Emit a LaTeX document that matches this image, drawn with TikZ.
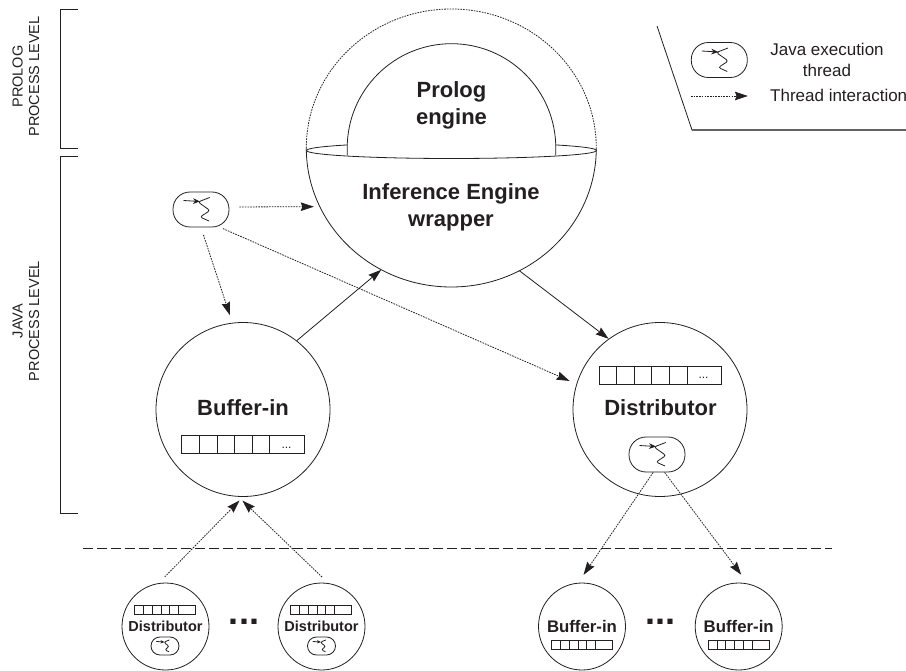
\documentclass[tikz,border=0pt]{standalone}
\usepackage{fontspec}
\setmainfont{Liberation Sans}
\usetikzlibrary{arrows.meta,shapes.geometric}
\definecolor{inkdark}{HTML}{231F20}
\tikzset{
    inkline/.style={draw=inkdark,line width=.8pt},
    solidarrow/.style={inkline,-{Stealth[length=13pt,width=8.5pt,inset=1.5pt]}},
    threadarrow/.style={solidarrow,dash pattern=on 1.6pt off 1.1pt},
    bigball/.style={circle,inkline,minimum size=174pt,inner sep=0pt},
    smallball/.style={circle,inkline,minimum size=87pt,inner sep=0pt},
    threadbox/.style={rectangle,inkline,rounded corners=17pt,minimum width=56pt,minimum height=35pt},
    threadboxsmall/.style={rectangle,inkline,rounded corners=9pt,minimum width=28pt,minimum height=18pt},
    biglabel/.style={text=inkdark,font=\fontsize{22}{27}\selectfont\bfseries,align=center},
    levellabel/.style={text=inkdark,rotate=90,font=\fontsize{14.5}{16.5}\selectfont,align=center},
    legendlabel/.style={text=inkdark,font=\fontsize{17}{21}\selectfont,align=center},
    dotlabel/.style={text=inkdark,font=\fontsize{12}{12}\selectfont,inner sep=0pt},
    gaplabel/.style={text=inkdark,font=\fontsize{36}{36}\selectfont\bfseries,inner sep=0pt},
    pics/threadglyph/.style={code={
        \draw[inkline,-{Stealth[length=#1,width'=0pt .8]}] (-17.5,-9) -- (-1,-8);
        \draw[inkline,rounded corners=2.5pt] (8.7,-12) -- (-3,-7.5) -- (9,1) -- (-1,7.5) -- (8,11.5);
    }},
    pics/bufferrow/.style={code={
        \draw[inkline] (0,0) rectangle (122.5,18);
        \foreach \k in {1,...,5}
            \draw[inkline] (17.6*\k,0) -- (17.6*\k,18);
    }},
}
\begin{document}
\begin{tikzpicture}[x=1pt,y=-1pt]
    \useasboundingbox (0,0) rectangle (906,671);

    % level brackets on the left
    \draw[inkline] (78,9) -- (60.5,9) -- (60.5,148) -- (78,148);
    \draw[inkline] (78,156.5) -- (60.5,156.5) -- (60.5,513.5) -- (78,513.5);
    \node[levellabel] (prologlevel) at (26,76.5) {PROLOG\\PROCESS LEVEL};
    \node[levellabel] (javalevel) at (26,321) {JAVA\\PROCESS LEVEL};

    % the inference engine with the prolog dome on top
    \node[ellipse,minimum width=290pt,minimum height=278pt,inner sep=0pt] (wrapper) at (451.5,148) {};
    \coordinate (rimleft) at (306.5,150.5);
    \draw[threadarrow,-] (wrapper.west) arc[start angle=180,end angle=0,x radius=145pt,y radius=139pt];
    \draw[inkline] (wrapper.west) arc[start angle=180,end angle=360,x radius=145pt,y radius=139pt];
    \draw[inkline] (rimleft) arc[start angle=180,end angle=0,x radius=145pt,y radius=8pt];
    \coordinate (domeleft) at (347.2,155.5);
    \coordinate (domeright) at (555.8,155.5);
    \draw[inkline,fill=white] (domeleft) -- (347.2,148) arc[start angle=180,end angle=0,radius=104.3pt] -- (domeright);
    \draw[inkline] (rimleft) arc[start angle=180,end angle=360,x radius=145pt,y radius=8pt];
    \node[biglabel] (prologtext) at (451.5,105) {Prolog\\engine};
    \node[biglabel] (wrappertext) at (451,207) {Inference Engine\\wrapper};

    % java side
    \node[threadbox] (thread) at (201,209.5) {};
    \pic at (thread) {threadglyph=7pt};
    \node[bigball] (bufferin) at (243,409.5) {};
    \node[biglabel] (buffertext) at (243,408) {Buffer-in};
    \pic at (181.7,435.3) {bufferrow};
    \node[dotlabel] (bufferdots) at (286.5,447.5) {...};
    \node[bigball] (distributor) at (660,409.5) {};
    \node[biglabel] (distributortext) at (660.5,408) {Distributor};
    \pic at (599,366) {bufferrow};
    \node[dotlabel] (distributordots) at (703.5,378) {...};
    \node[threadbox] (distthread) at (657,454.5) {};
    \pic at (distthread) {threadglyph=7pt};

    \draw[threadarrow,shorten <=10pt,shorten >=6pt] (thread.5) -- (wrapper.204.2);
    \draw[threadarrow,shorten <=8pt,shorten >=8pt] (thread.south) -- (bufferin.97.3);
    \draw[threadarrow,shorten <=3pt,shorten >=7.5pt] (thread.-43) -- (distributor.163.5);
    \draw[solidarrow] (bufferin.52.9) -- (wrapper.240.4);
    \draw[solidarrow] (wrapper.299.8) -- (distributor.126.4);

    \draw[inkline,dash pattern=on 10pt off 4pt] (83,548) -- (832,548);

    % outside the process, bottom row
    \node[smallball] (dista) at (165.5,626.5) {};
    \node[smallball] (distb) at (321.5,626.5) {};
    \node[smallball] (bufa) at (582,626.5) {};
    \node[smallball] (bufb) at (738.7,626.5) {};
    \foreach \n in {dista,distb}
        \node[text=inkdark,font=\fontsize{14.5}{14.5}\selectfont\bfseries] (\n text) at (\n) {Distributor};
    \foreach \n in {bufa,bufb}
        \node[text=inkdark,font=\fontsize{16.8}{16.8}\selectfont\bfseries] (\n text) at (\n) {Buffer-in};
    \pic[scale=.5] at (134.5,605) {bufferrow};
    \pic[scale=.5] at (290.5,605) {bufferrow};
    \pic[scale=.5] at (551.5,640) {bufferrow};
    \pic[scale=.5] at (708.2,640) {bufferrow};
    \node[threadboxsmall] (threada) at (165,646) {};
    \node[threadboxsmall] (threadb) at (321.5,646) {};
    \pic[scale=.5] at (threada) {threadglyph=4pt};
    \pic[scale=.5] at (threadb) {threadglyph=4pt};
    \node[gaplabel] (gapleft) at (244,622) {...};
    \node[gaplabel] (gapright) at (660.5,622) {...};

    \draw[threadarrow,shorten <=8.7pt,shorten >=5pt] (dista.99.5) -- (bufferin.south);
    \draw[threadarrow,shorten <=8.7pt,shorten >=5.5pt] (distb.81.6) -- (bufferin.267);
    \draw[threadarrow,shorten >=9.5pt] (distthread.258) -- (bufa.95.2);
    \draw[threadarrow,shorten >=11pt] (distthread.-67.4) -- (bufb.78.4);

    % legend
    \draw[inkline] (657,26) -- (692,130);
    \draw[inkline,draw=inkdark!70,line width=1.2pt] (692,130) -- (906,130);
    \node[threadbox] (legendthread) at (719.3,60) {};
    \pic at (legendthread) {threadglyph=7pt};
    \node[legendlabel] (legendthreadtext) at (827,59.5) {Java execution\\thread};
    \coordinate (legendfrom) at (691,96);
    \coordinate (legendto) at (748,96);
    \draw[threadarrow] (legendfrom) -- (legendto);
    \node[legendlabel,anchor=west,inner sep=0pt] (legendarrowtext) at (770,95) {Thread interaction};
\end{tikzpicture}
\end{document}
